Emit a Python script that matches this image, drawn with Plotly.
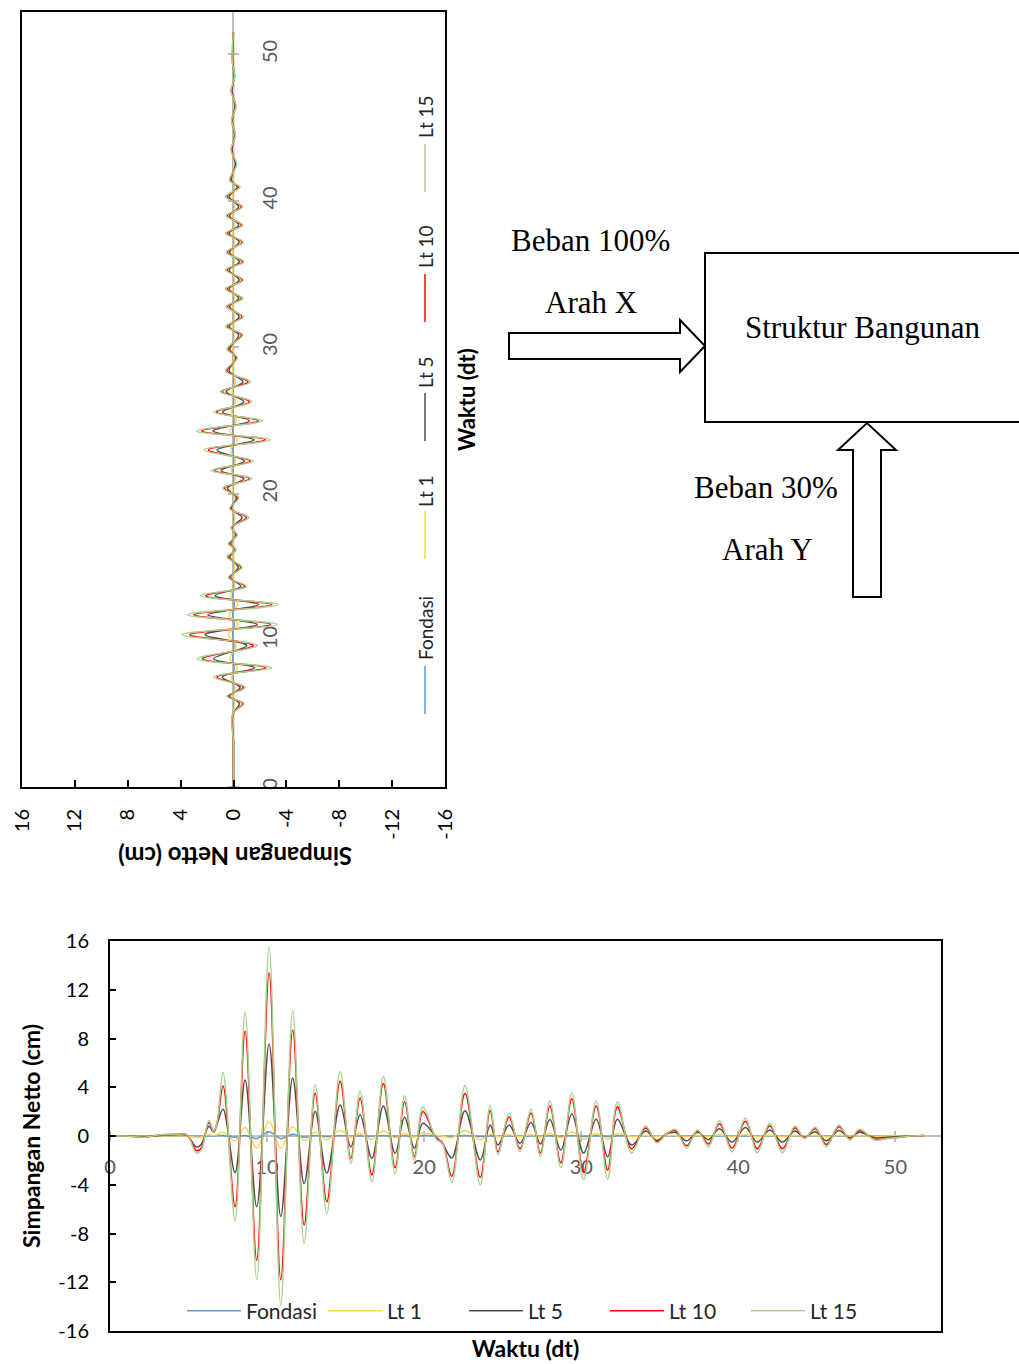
import plotly.graph_objects as go

# ---------------- DATA ----------------
# Bottom chart: X direction (Beban 100% Arah X) - time of extrema (s)
t_x = [0, 1.0, 2.1, 3.2, 4.2, 4.9, 5.5, 5.8, 6.3, 6.6,
       6.8, 7.2, 7.96, 8.6, 9.34, 10.13, 10.87, 11.63, 12.36, 13.06,
       13.8, 14.65, 15.33, 15.92, 16.67, 17.4, 18.15, 18.75, 19.38, 19.92,
       20.8, 21.15, 21.76, 22.6, 23.57, 24.2, 24.7, 25.4, 26.1, 26.8,
       27.4, 28.0, 28.7, 29.4, 30.15, 30.95, 31.68, 32.3, 33.2, 34.1,
       34.8, 35.5, 36.0, 36.7, 37.4, 38.1, 38.8, 39.6, 40.45, 41.2,
       42.0, 42.8, 43.6, 44.2, 44.9, 45.6, 46.4, 47.1, 47.7, 48.7,
       49.5, 50.3, 51.0, 51.8]
fondasi_x = [0, 0, 0, 0, 0, 0, -0.02, -0.02, 0.02, 0.01,
             0.02, 0.05, -0.1, 0.05, -0.2, 0.35, -0.2, 0.15, -0.1, 0.05,
             -0.05, 0.05, -0.02, 0.03, -0.03, 0.05, -0.03, 0.03, -0.02, 0.03,
             0, 0, -0.03, 0.05, -0.05, 0.02, -0.01, 0.02, -0.01, 0.02,
             -0.02, 0.03, -0.03, 0.04, -0.04, 0.03, -0.04, 0.03, -0.02, 0.01,
             -0.01, 0, 0.01, -0.01, 0.01, -0.01, 0.02, -0.02, 0.02, -0.02,
             0.02, -0.02, 0.01, 0, 0.01, -0.01, 0.01, 0, 0.01, 0,
             0, 0, 0, 0]
lt1_x = [0, 0, 0, 0, 0.02, 0, -0.1, -0.08, 0.1, 0.05,
         0.1, 0.3, -0.4, 0.7, -1.0, 1.2, -1.0, 0.75, -0.35, 0.3,
         -0.3, 0.45, -0.1, 0.2, -0.25, 0.4, -0.15, 0.2, -0.1, 0.25,
         0.05, 0.0, -0.15, 0.45, -0.3, 0.15, -0.05, 0.1, -0.05, 0.1,
         -0.1, 0.2, -0.15, 0.35, -0.25, 0.2, -0.25, 0.2, -0.05, 0.05,
         -0.03, 0.02, 0.03, -0.05, 0.03, -0.05, 0.08, -0.06, 0.1, -0.06,
         0.06, -0.06, 0.05, 0, 0.04, -0.05, 0.05, -0.02, 0.03, -0.02,
         -0.01, 0, 0, 0]
lt5_x = [0, 0, -0.05, 0.05, 0.1, 0.05, -0.9, -0.7, 0.8, 0.3,
         0.9, 2.2, -3.0, 4.6, -5.8, 7.55, -6.6, 4.75, -3.9, 2.0,
         -3.06, 2.54, -0.9, 1.72, -1.83, 2.46, -1.42, 1.53, -1.0, 1.04,
         -0.15, -0.6, -1.8, 2.08, -1.97, 0.9, -0.74, 0.9, -0.6, 1.1,
         -0.66, 1.36, -1.15, 1.8, -1.4, 1.37, -1.7, 1.37, -0.74, 0.4,
         -0.35, 0.2, 0.3, -0.4, 0.3, -0.3, 0.6, -0.5, 0.7, -0.5,
         0.5, -0.5, 0.4, -0.1, 0.35, -0.4, 0.45, -0.15, 0.3, -0.15,
         -0.1, -0.05, 0.0, 0.05]
lt10_x = [0, 0, -0.1, 0.1, 0.15, 0.1, -1.2, -1.0, 1.1, 0.4,
          0.95, 4.1, -5.8, 8.6, -10.2, 13.4, -11.8, 8.7, -7.3, 3.5,
          -5.4, 4.5, -1.85, 3.1, -3.2, 4.3, -2.6, 2.8, -1.7, 2.0,
          -0.25, -0.5, -3.3, 3.5, -3.4, 2.1, -1.3, 1.56, -1.05, 1.86,
          -1.4, 2.46, -2.2, 3.05, -3.0, 2.46, -2.8, 2.4, -1.05, 0.65,
          -0.45, 0.25, 0.45, -0.8, 0.4, -0.65, 1.0, -1.0, 1.2, -1.05,
          0.85, -1.05, 0.65, -0.15, 0.6, -0.7, 0.75, -0.28, 0.45, -0.28,
          -0.18, -0.1, 0.0, 0.05]
lt15_x = [0, 0, -0.1, 0.1, 0.15, 0.1, -1.4, -1.2, 1.3, 0.35,
          1.0, 5.2, -7.0, 10.2, -11.8, 15.5, -13.9, 10.3, -8.8, 4.2,
          -6.35, 5.3, -2.25, 3.65, -3.75, 4.9, -3.1, 3.3, -2.0, 2.4,
          -0.3, -0.55, -3.8, 4.15, -4.0, 2.5, -1.55, 1.86, -1.3, 2.2,
          -1.7, 2.87, -2.6, 3.55, -3.6, 2.9, -3.55, 2.8, -1.4, 0.82,
          -0.55, 0.25, 0.55, -1.0, 0.5, -0.88, 1.26, -1.3, 1.45, -1.37,
          1.05, -1.37, 0.82, -0.2, 0.72, -0.88, 0.9, -0.33, 0.55, -0.33,
          -0.2, -0.1, 0.0, 0.05]

# Top-left (rotated) chart: Y direction - time of extrema (s)
t_y = [0, 3.0, 5.0, 5.7, 6.2, 6.8, 7.5, 8.14, 8.75, 9.66,
       10.4, 11.1, 11.75, 12.45, 13.06, 13.7, 14.3, 15.0, 15.7, 16.2,
       16.6, 17.2, 17.7, 18.4, 19.0, 19.75, 20.4, 21.05, 21.6, 22.25,
       23.0, 23.7, 24.3, 25.0, 25.6, 26.3, 27.0, 27.65, 28.4, 29.3,
       29.9, 30.86, 31.43, 32.1, 32.8, 33.35, 34.0, 34.6, 35.3, 35.85,
       36.5, 37.2, 37.8, 38.35, 39.0, 39.6, 40.3, 40.95, 41.4, 42.5,
       43.5, 44.5, 45.5, 46.5, 47.5, 48.5, 49.5, 51.5]
fondasi_y = [0, 0, 0, -0.02, 0.01, -0.02, 0.03, -0.05, 0.05, -0.03,
             0.07, -0.06, 0.06, -0.06, 0.04, -0.02, 0.01, -0.01, 0.01, 0,
             0.01, -0.01, 0, -0.02, 0.01, -0.01, 0.01, -0.02, 0.03, -0.03,
             0.04, -0.05, 0.05, -0.04, 0.03, -0.02, 0.02, -0.02, 0.01, 0,
             0.01, -0.01, 0.01, -0.01, 0.01, -0.01, 0.01, -0.01, 0.01, -0.01,
             0.01, -0.01, 0.01, -0.01, 0.01, -0.01, 0.01, -0.01, 0, 0,
             0, 0, 0, 0, 0, 0, 0, 0]
lt1_y = [0, 0, 0, -0.08, 0.05, -0.09, 0.15, -0.28, 0.27, -0.18,
         0.38, -0.32, 0.34, -0.33, 0.24, -0.1, 0.04, -0.06, 0.05, -0.02,
         0.04, -0.03, 0.02, -0.11, 0.03, -0.04, 0.08, -0.14, 0.17, -0.15,
         0.22, -0.27, 0.27, -0.21, 0.15, -0.14, 0.1, -0.13, 0.06, -0.03,
         0.05, -0.07, 0.06, -0.07, 0.05, -0.07, 0.06, -0.07, 0.06, -0.08,
         0.05, -0.07, 0.06, -0.07, 0.05, -0.07, 0.06, -0.05, 0.03, -0.02,
         0.02, -0.01, 0.01, -0.02, 0.02, -0.01, 0.01, 0]
lt5_y = [0, 0, 0.03, -0.45, 0.28, -0.5, 0.85, -1.6, 1.5, -1.0,
         2.15, -1.8, 1.95, -1.9, 1.4, -0.55, 0.22, -0.36, 0.28, -0.11,
         0.22, -0.17, 0.11, -0.64, 0.17, -0.22, 0.45, -0.78, 0.95, -0.83,
         1.25, -1.55, 1.55, -1.2, 0.83, -0.78, 0.55, -0.72, 0.33, -0.17,
         0.28, -0.39, 0.33, -0.42, 0.3, -0.39, 0.33, -0.42, 0.33, -0.44,
         0.3, -0.42, 0.33, -0.39, 0.3, -0.39, 0.33, -0.28, 0.17, -0.14,
         0.11, -0.08, 0.08, -0.11, 0.11, -0.06, 0.06, 0]
lt10_y = [0, 0, 0.04, -0.7, 0.42, -0.75, 1.25, -2.45, 2.35, -1.5,
          3.3, -2.8, 3.0, -2.9, 2.1, -0.85, 0.35, -0.55, 0.42, -0.17,
          0.34, -0.25, 0.17, -0.98, 0.25, -0.34, 0.68, -1.2, 1.45, -1.28,
          1.9, -2.4, 2.4, -1.87, 1.28, -1.2, 0.85, -1.1, 0.5, -0.25,
          0.42, -0.6, 0.5, -0.64, 0.47, -0.6, 0.5, -0.64, 0.5, -0.68,
          0.47, -0.64, 0.5, -0.6, 0.47, -0.6, 0.5, -0.42, 0.25, -0.2,
          0.17, -0.13, 0.13, -0.17, 0.17, -0.08, 0.08, 0]
lt15_y = [0, 0, 0.05, -0.8, 0.5, -0.9, 1.5, -2.9, 2.75, -1.8,
          3.9, -3.3, 3.5, -3.4, 2.5, -1.0, 0.4, -0.65, 0.5, -0.2,
          0.4, -0.3, 0.2, -1.15, 0.3, -0.4, 0.8, -1.4, 1.7, -1.5,
          2.25, -2.8, 2.8, -2.2, 1.5, -1.4, 1.0, -1.3, 0.6, -0.3,
          0.5, -0.7, 0.6, -0.75, 0.55, -0.7, 0.6, -0.75, 0.6, -0.8,
          0.55, -0.75, 0.6, -0.7, 0.55, -0.7, 0.6, -0.5, 0.3, -0.25,
          0.2, -0.15, 0.15, -0.2, 0.2, -0.1, 0.1, 0]

series_names = ["Fondasi", "Lt 1", "Lt 5", "Lt 10", "Lt 15"]
series_colors = ["#5B9BD5", "#FFD34D", "#4D4D4D", "#FF0000", "#A9D18E"]
disp_ticks = [16, 12, 8, 4, 0, -4, -8, -12, -16]
disp_tick_text = ["16", "12", "8", "4", "0", "-4", "-8", "-12", "-16"]
time_ticks = [0, 10, 20, 30, 40, 50]

# ---------------- LAYOUT HELPERS ----------------
W, H = 1019, 1364
def fx(px):
    return px / W
def fy(py):
    return 1 - py / H

FONT = "Lato"
SERIF = "Liberation Serif"

fig = go.Figure()

xs_series = [fondasi_x, lt1_x, lt5_x, lt10_x, lt15_x]
ys_series = [fondasi_y, lt1_y, lt5_y, lt10_y, lt15_y]
# axis hosting for each series (so that the overlaid zero-axes get drawn)
bottom_xaxes = ["x", "x3", "x3", "x3", "x4"]
rot_yaxes = ["y2", "y5", "y5", "y5", "y6"]

for name, col, vals, xa in zip(series_names, series_colors, xs_series, bottom_xaxes):
    fig.add_trace(go.Scatter(x=t_x, y=vals, name=name, mode="lines",
                             line=dict(color=col, width=1.5, shape="spline"),
                             xaxis=xa, yaxis="y", hoverinfo="skip"))
for name, col, vals, ya in zip(series_names, series_colors, ys_series, rot_yaxes):
    fig.add_trace(go.Scatter(x=vals, y=t_y, name=name, mode="lines",
                             line=dict(color=col, width=1.5, shape="spline"),
                             xaxis="x2", yaxis=ya, showlegend=False, hoverinfo="skip"))

XR = [0, 52.9]
fig.update_layout(
    width=W, height=H, autosize=False,
    margin=dict(l=0, r=0, t=0, b=0, autoexpand=False),
    paper_bgcolor="white", plot_bgcolor="white",
    font=dict(family=FONT, color="#262626"),
    showlegend=True,
    legend=dict(orientation="h", x=fx(182), xanchor="left", y=fy(1311), yanchor="middle",
                font=dict(family=FONT, size=21, color="#262626"), bgcolor="rgba(0,0,0,0)",
                itemwidth=54, entrywidth=72),
    # ---- bottom chart frame
    xaxis=dict(domain=[fx(110), fx(941)], anchor="y", range=XR, showline=True, mirror=True,
               linecolor="black", linewidth=2, showticklabels=False, ticks="", showgrid=False,
               zeroline=False, automargin=False,
               title=dict(text="<b>Waktu (dt)</b>", font=dict(family=FONT, size=23, color="black"), standoff=9)),
    yaxis=dict(domain=[fy(1331), fy(941)], anchor="x", range=[-16, 16], tickvals=disp_ticks,
               ticktext=disp_tick_text,
               showline=True, mirror=True, linecolor="black", linewidth=2, ticks="inside",
               ticklen=6, tickwidth=2, tickcolor="black", showgrid=False, zeroline=False,
               automargin=False,
               tickfont=dict(family=FONT, size=20, color="black"), ticklabelstandoff=15,
               title=dict(text="<b>Simpangan Netto (cm)</b>", font=dict(family=FONT, size=23, color="black"), standoff=11)),
    # zero (time) axis with labels, bottom chart
    xaxis3=dict(overlaying="x", anchor="free", position=fy(1136), side="bottom", range=XR,
                tickvals=time_ticks, showline=True, linecolor="#BFBFBF", linewidth=2,
                ticks="outside", ticklen=5, tickwidth=2, tickcolor="#BFBFBF", showgrid=False,
                zeroline=False, layer="below traces", automargin=False,
                tickfont=dict(family=FONT, size=20, color="#595959"), ticklabelstandoff=8),
    xaxis4=dict(overlaying="x", anchor="free", position=fy(1136), side="top", range=XR,
                tickvals=time_ticks, showline=False, ticks="outside", ticklen=5, tickwidth=2,
                tickcolor="#BFBFBF", showticklabels=False, showgrid=False, zeroline=False,
                layer="below traces", automargin=False),
    # ---- rotated chart frame
    xaxis2=dict(domain=[fx(22), fx(445)], anchor="y2", range=[16, -16], tickvals=disp_ticks,
                ticktext=disp_tick_text,
                showline=True, mirror=True, linecolor="black", linewidth=2, ticks="inside",
                ticklen=7, tickwidth=2, tickcolor="black", showgrid=False, zeroline=False,
                tickangle=-90, tickfont=dict(family=FONT, size=20, color="black"),
                ticklabelstandoff=12, automargin=False),
    yaxis2=dict(domain=[fy(787), fy(12)], anchor="x2", range=XR, showline=True, mirror=True,
                linecolor="black", linewidth=2, showticklabels=False, ticks="", showgrid=False,
                zeroline=False, automargin=False),
    yaxis5=dict(overlaying="y2", anchor="free", position=fx(233), side="right", range=XR,
                tickvals=time_ticks, showline=True, linecolor="#BFBFBF", linewidth=2,
                ticks="outside", ticklen=5, tickwidth=2, tickcolor="#BFBFBF", showgrid=False,
                zeroline=False, layer="below traces", tickangle=-90, automargin=False,
                tickfont=dict(family=FONT, size=20, color="#595959"), ticklabelstandoff=14),
    yaxis6=dict(overlaying="y2", anchor="free", position=fx(233), side="left", range=XR,
                tickvals=time_ticks, showline=False, ticks="outside", ticklen=5, tickwidth=2,
                tickcolor="#BFBFBF", showticklabels=False, showgrid=False, zeroline=False,
                layer="below traces", automargin=False),
)

annotations = []
shapes = []

def ann(text, cx, cy, font, angle=0):
    return dict(text=text, x=fx(cx), y=fy(cy), xref="paper", yref="paper",
                xanchor="center", yanchor="middle", showarrow=False,
                textangle=angle, font=font)

# rotated chart titles
annotations.append(ann("<b>Simpangan Netto (cm)</b>", 235, 857,
                       dict(family=FONT, size=24, color="black"), 180))
annotations.append(ann("<b>Waktu (dt)</b>", 467, 400,
                       dict(family=FONT, size=22, color="black"), -90))

# rotated legend (text + line glyph)
rot_leg_text_y = [628, 491, 372, 247, 117]
rot_leg_line_y = [(666, 714), (511, 559), (393, 441), (274, 322), (144, 192)]
for name, col, ty, (l0, l1) in zip(series_names, series_colors, rot_leg_text_y, rot_leg_line_y):
    annotations.append(ann(name, 425, ty, dict(family=FONT, size=19, color="#262626"), -90))
    shapes.append(dict(type="line", xref="paper", yref="paper", x0=fx(425), x1=fx(425),
                       y0=fy(l0), y1=fy(l1), line=dict(color=col, width=1.5)))

# diagram
diag_font = dict(family=SERIF, size=31, color="black")
for txt, (cx, cy) in [("Beban 100%", (590, 240)), ("Arah X", (591, 302)),
                      ("Struktur Bangunan", (863, 327)), ("Beban 30%", (766, 487)),
                      ("Arah Y", (767, 549))]:
    annotations.append(ann(txt, cx, cy, diag_font))

shapes.append(dict(type="rect", xref="paper", yref="paper", x0=fx(705), x1=fx(1030),
                   y0=fy(422), y1=fy(253), line=dict(color="black", width=2), fillcolor="rgba(0,0,0,0)"))

def path(points):
    return "M " + " L ".join(f"{fx(px):.5f},{fy(py):.5f}" for px, py in points) + " Z"

right_arrow = [(509, 333), (680, 333), (680, 320), (705, 346), (680, 372), (680, 359), (509, 359)]
up_arrow = [(853, 597), (853, 450), (838, 450), (867, 423), (896, 450), (881, 450), (881, 597)]
for pts in (right_arrow, up_arrow):
    shapes.append(dict(type="path", xref="paper", yref="paper", path=path(pts),
                       line=dict(color="black", width=2), fillcolor="white"))

fig.update_layout(annotations=annotations, shapes=shapes)

fig.write_html("out.html")
